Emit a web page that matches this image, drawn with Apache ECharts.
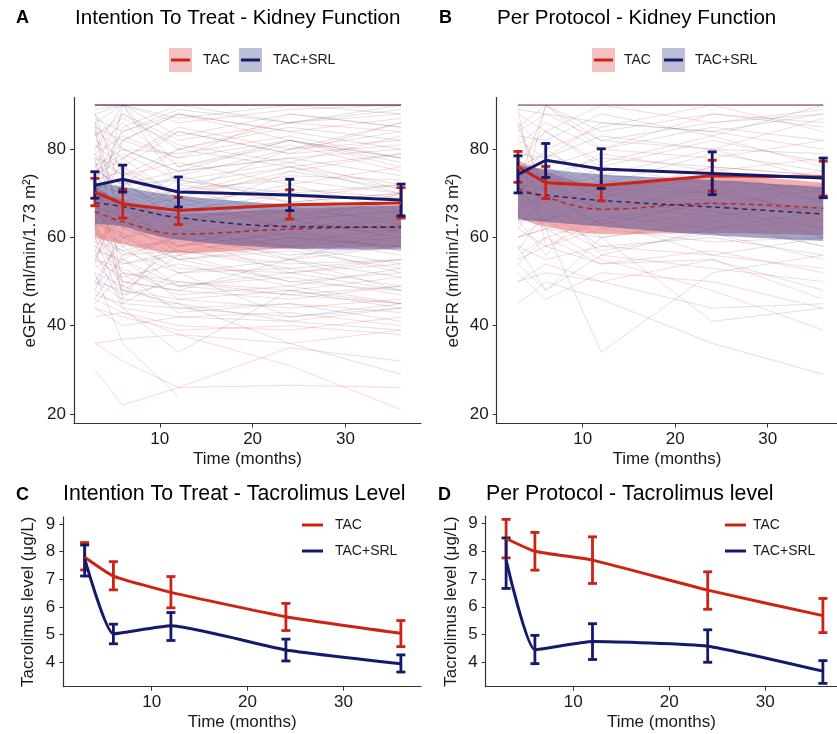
<!DOCTYPE html>
<html>
<head>
<meta charset="utf-8">
<script src="https://cdn.jsdelivr.net/npm/echarts@6/dist/echarts.min.js"></script>
<style>
html,body{margin:0;padding:0;background:#fff}
#main{width:837px;height:734px}
</style>
</head>
<body>
<div id="main"></div>
<script>
var months=[3,6,12,24,36]
var xTicks=[10,20,30]
var egfrTicks=[20,40,60,80]
var tacroTicks=[4,5,6,7,8,9]

//A: ITT eGFR
var ittTacMean=[70.3,67.6,66.1,67.4,67.8]
var ittTacLow=[67.2,64.4,62.9,64.2,64.4]
var ittTacHigh=[73.4,70.9,69.1,70.8,71.3]
var ittSrlMean=[71.8,73.2,70.3,69.6,68.5]
var ittSrlLow=[68.9,70.3,66.9,66.1,64.9]
var ittSrlHigh=[74.9,76.4,73.7,73.2,72.1]
var ittTacFit=[65.9,63.6,60.8,61.9,62.5]
var ittSrlFit=[67.9,67.0,64.5,62.5,62.3]
var ittTacBandLow=[60.0,58.5,56.5,57.5,57.8]
var ittTacBandHigh=[71.5,68.5,65.5,66.5,67.2]
var ittSrlBandLow=[63.0,62.5,59.5,57.5,57.3]
var ittSrlBandHigh=[72.5,71.5,69.5,67.5,67.3]

//B: PP eGFR
var ppTacMean=[76.0,72.4,71.8,74.0,73.7]
var ppTacLow=[72.5,68.8,68.3,70.5,69.4]
var ppTacHigh=[79.5,76.1,75.4,77.5,77.3]
var ppSrlMean=[74.3,77.5,75.5,74.5,73.5]
var ppSrlLow=[70.1,73.6,71.1,69.7,69.0]
var ppSrlHigh=[78.5,81.3,80.1,79.4,78.0]
var ppTacFit=[71.1,69.1,66.4,67.7,66.6]
var ppSrlFit=[70.3,69.6,68.4,66.9,65.3]
var ppTacBandLow=[64.5,62.5,60.8,61.0,60.5]
var ppTacBandHigh=[77.5,75.0,72.0,74.0,72.5]
var ppSrlBandLow=[64.0,63.5,62.5,60.5,59.2]
var ppSrlBandHigh=[76.5,75.5,74.3,73.0,71.4]

//C: ITT tacrolimus
var ittTacroTac=[7.8,7.12,6.53,5.65,5.05]
var ittTacroTacLow=[7.34,6.62,5.97,5.15,4.57]
var ittTacroTacHigh=[8.33,7.64,7.1,6.13,5.51]
var ittTacroSrl=[7.75,5.03,5.32,4.45,3.95]
var ittTacroSrlLow=[7.12,4.67,4.79,4.05,3.65]
var ittTacroSrlHigh=[8.24,5.38,5.8,4.84,4.27]

//D: PP tacrolimus
var ppTacroTac=[8.46,8.0,7.68,6.6,5.68]
var ppTacroTacLow=[7.76,7.32,6.84,5.91,5.07]
var ppTacroTacHigh=[9.15,8.68,8.52,7.26,6.3]
var ppTacroSrl=[7.68,4.45,4.75,4.58,3.68]
var ppTacroSrlLow=[6.66,3.95,4.1,4.0,3.24]
var ppTacroSrlHigh=[8.48,4.97,5.39,5.17,4.06]

//individual patients, eGFR at 3,6,12,24,36 months
var ittTacPatients=[
[90,90,90,90,90],[90,90,90,90,90],[90,90,90,90,90],[90,90,90,90,90],[90,90,90,90,90],[90,90,90,90,90],
[90,90,90,90,90],[90,90,90,90,90],
[88,90,86,89,90],[85,82,88,84,87],[84,80,79,83,78],[82,78,85,80,84],[80,86,76,81,75],[79,74,77,72,76],
[78,76,70,74,73],[77,72,75,78,80],[76,70,68,71,69],[75,79,73,69,72],[74,68,71,73,70],[73,75,66,67,68],
[72,66,69,64,66],[71,73,63,70,65],[70,64,67,62,64],[69,71,65,66,61],[68,62,60,63,62],[67,65,58,61,59],
[66,60,62,58,60],[65,63,57,60,56],[64,58,59,55,58],[63,61,55,57,53],[62,56,57,54,55],[61,59,53,52,54],
[60,54,56,50,52],[59,57,52,53,49],[58,52,50,48,51],[57,55,49,51,47],[56,50,48,46,49],[55,53,47,49,45],
[54,48,46,44,46],[52,49,44,45,43],[50,46,45,41,44],[48,44,42,43,40],[46,43,40,39,42],[44,42,39,40,38],
[42,43,38,36,39],[62,48,56,60,58],[70,47,60,52,55],[84,62,72,68,70],[88,70,64,75,79],[60,72,80,86,88],
[55,68,74,80,82],[36,37,38,31,21],[30,22,26,26.5,26],[36,32,26,35,32],[76,88,82,86,84],[66,78,84,79,86],
[58,64,70,76,72],[86,75,69,62,57],[64,82,78,88,85],[50,60,66,64,70],[83,87,81,77,83],[74,84,88,82,76],
[68,55,61,58,63],[79,66,73,77,71],[57,69,63,66,64],[63,52,49,47,45]
]
var ittSrlPatients=[
[90,90,90,90,90],[90,90,90,90,90],[90,90,90,90,90],[90,90,90,90,90],[90,90,90,90,90],[90,90,90,90,90],
[89,90,87,90,88],[87,84,89,86,90],[86,90,83,88,85],[83,88,80,85,82],[81,76,84,79,81],[79,83,78,82,77],
[78,74,80,76,79],[76,80,75,78,74],[75,72,73,70,72],[74,78,69,75,71],[72,70,74,68,70],[71,76,67,72,66],
[70,66,71,65,68],[68,73,64,67,63],[67,63,68,62,65],[65,70,61,64,60],[64,60,63,59,62],[62,67,58,61,57],
[61,57,60,56,58],[59,64,55,58,54],[58,54,57,53,55],[56,61,52,55,51],[55,51,54,49,53],[53,58,49,52,48],
[51,47,50,47,49],[49,55,46,48,44],[47,45,44,42,45],[45,52,43,45,41],[44,40,42,41,39],[85,49,58,64,60],
[80,90,72,76,70],[78,46,62,55,48],[52,36,24,null,null],[50,48,45,36,29],[62,90,76,82,78],[66,58,70,80,86],
[73,82,88,84,80],[57,44,34,48,45],[69,85,90,86,89],[86,62,66,60,58],[48,62,58,64,66],[60,45,52,42,44],
[77,68,56,62,70],[54,72,66,70,61],[88,80,75,82,78],[46,56,60,58,52],[63,50,48,55,62],[71,60,55,50,48]
]
var ppTacPatients=[
[90,90,90,90,90],[90,90,90,90,90],[90,90,90,90,90],[90,90,90,90,90],[90,90,90,90,90],
[88,84,90,86,89],[86,80,85,90,84],[84,88,82,80,87],[82,78,86,84,80],[80,76,80,78,82],[79,84,77,83,76],
[77,72,79,75,78],[76,79,74,80,73],[75,70,76,72,75],[74,76,71,74,70],[72,68,73,70,72],[71,74,69,76,68],
[70,66,70,67,71],[69,72,66,71,65],[68,64,67,65,67],[66,70,63,68,62],[65,62,65,62,64],[63,68,60,64,58],
[62,58,62,59,60],[60,64,57,61,55],[58,55,58,56,53],[56,60,54,57,52],[54,48,56,53,50],[52,46,52,50,44],
[50,54,50,55,46],[89,58,64,68,66],[72,90,80,88,86],[64,56,70,76,74],[60,62,55,48,39],[85,70,62,66,60]
]
var ppSrlPatients=[
[90,90,90,90,90],[90,90,90,90,90],[90,90,90,90,90],[90,90,90,90,90],
[89,88,86,84,88],[85,90,84,88,85],[83,82,88,83,90],[81,86,80,85,82],[79,78,83,80,79],[77,84,76,82,77],
[75,74,78,76,74],[73,80,72,79,75],[72,71,74,73,71],[70,76,69,74,68],[68,68,71,70,66],[66,73,66,72,64],
[64,64,68,66,62],[62,70,63,68,60],[60,62,60,63,58],[57,66,58,60,56],[55,58,54,55,48],[50,52,50,44,45],
[45,50,46,36,29],[73,62,34,52,56],[58,48,60,41,44],[86,70,56,62,66],[65,90,82,86,88],[54,60,64,56,60]
]

var RED='#cc2314', NAVY='#141a6b'
var RED_THIN='rgba(222,70,60,0.2)', NAVY_THIN='rgba(60,66,135,0.17)'
var RED_BAND='rgba(228,100,104,0.5)', NAVY_BAND='rgba(72,76,145,0.5)'
var TXT='#1a1a1a', AXIS='#333'

function pairs(ys){
    return months.map(function(m,i){return [m,ys[i]]})
}

//spaghetti lines
function patients(gi,rows,color){
    var data=[]
    rows.forEach(function(r){
        var c=[]
        r.forEach(function(v,i){ if(v!=null) c.push([months[i],v]) })
        data.push({coords:c})
    })
    return {type:'lines',coordinateSystem:'cartesian2d',xAxisIndex:gi,yAxisIndex:gi,polyline:true,silent:true,z:1,
        lineStyle:{color:color,width:1,opacity:1},data:data}
}

//smooth path through pixel points (catmull-rom)
function curve(p,start){
    var s=(start?'M':'L')+p[0][0]+','+p[0][1]
    for(var i=0;i<p.length-1;i++){
        var p0=p[Math.max(i-1,0)],p1=p[i],p2=p[i+1],p3=p[Math.min(i+2,p.length-1)]
        s+='C'+(p1[0]+(p2[0]-p0[0])/6)+','+(p1[1]+(p2[1]-p0[1])/6)+' '+
            (p2[0]-(p3[0]-p1[0])/6)+','+(p2[1]-(p3[1]-p1[1])/6)+' '+p2[0]+','+p2[1]
    }
    return s
}

//model ribbon
function band(gi,lo,hi,color){
    return {type:'custom',xAxisIndex:gi,yAxisIndex:gi,z:2,silent:true,
        data:months.map(function(m,i){return [m,lo[i],hi[i]]}),
        encode:{x:0,y:[1,2]},
        renderItem:function(params,api){
            if(params.dataIndexInside!==0) return
            var n=params.dataInsideLength,top=[],bot=[]
            for(var i=0;i<n;i++){
                var x=api.value(0,i)
                top.push(api.coord([x,api.value(2,i)]))
                bot.unshift(api.coord([x,api.value(1,i)]))
            }
            return {type:'path',shape:{pathData:curve(top,true)+curve(bot,false)+'Z'},style:{fill:color}}
        }}
}
function fitLine(gi,ys,color){
    return {type:'line',xAxisIndex:gi,yAxisIndex:gi,data:pairs(ys),symbol:'none',smooth:0.4,silent:true,z:3,
        lineStyle:{color:color,width:1.5,type:[5,4]}}
}
function meanLine(gi,ys,color,smooth){
    return {type:'line',xAxisIndex:gi,yAxisIndex:gi,data:pairs(ys),symbol:'none',smooth:smooth||false,silent:true,z:4,
        lineStyle:{color:color,width:3}}
}
function errorBars(gi,lo,hi,color){
    return {type:'custom',xAxisIndex:gi,yAxisIndex:gi,z:4,silent:true,
        data:months.map(function(m,i){return [m,lo[i],hi[i]]}),
        encode:{x:0,y:[1,2]},
        renderItem:function(params,api){
            var x=api.value(0)
            var a=api.coord([x,api.value(1)]), b=api.coord([x,api.value(2)])
            var w=4.5, st={stroke:color,lineWidth:2.8}
            return {type:'group',children:[
                {type:'line',shape:{x1:a[0],y1:a[1],x2:b[0],y2:b[1]},style:st},
                {type:'line',shape:{x1:a[0]-w,y1:a[1],x2:a[0]+w,y2:a[1]},style:st},
                {type:'line',shape:{x1:b[0]-w,y1:b[1],x2:b[0]+w,y2:b[1]},style:st}
            ]}
        }}
}

function xAx(gi,min,max){
    return {type:'value',gridIndex:gi,min:min,max:max,name:'Time (months)',nameLocation:'middle',nameGap:27,
        nameTextStyle:{fontSize:17,color:TXT,fontFamily:'Liberation Sans'},
        axisLine:{show:true,lineStyle:{color:AXIS,width:1.2}},
        axisTick:{show:true,length:4,customValues:xTicks,lineStyle:{color:AXIS}},
        axisLabel:{customValues:xTicks,fontSize:17,color:TXT,margin:7,fontFamily:'Liberation Sans'},
        splitLine:{show:false}}
}
function yAx(gi,min,max,ticks,name,gap){
    return {type:'value',gridIndex:gi,min:min,max:max,name:name,nameLocation:'middle',nameRotate:90,nameGap:gap,
        nameTextStyle:{fontSize:17,color:TXT,fontFamily:'Liberation Sans'},
        axisLine:{show:true,lineStyle:{color:AXIS,width:1.2}},
        axisTick:{show:true,length:4,customValues:ticks,lineStyle:{color:AXIS}},
        axisLabel:{customValues:ticks,fontSize:17,color:TXT,margin:8,fontFamily:'Liberation Sans'},
        splitLine:{show:false}}
}

function title(text,x,y,size,bold){
    return {text:text,left:x,top:y,padding:0,textStyle:{fontSize:size,fontWeight:bold?'bold':'normal',color:'#000',fontFamily:'Liberation Sans'}}
}

//legend keys
function boxKey(x,y,fill,line){
    return [
        {type:'rect',shape:{x:x,y:y,width:23,height:24},style:{fill:fill}},
        {type:'line',shape:{x1:x+2,y1:y+12,x2:x+21,y2:y+12},style:{stroke:line,lineWidth:3}}
    ]
}
function lineKey(x,y,color){
    return [{type:'line',shape:{x1:x,y1:y,x2:x+21,y2:y},style:{stroke:color,lineWidth:3}}]
}
function label(text,x,y){
    return {type:'text',x:x,y:y,style:{text:text,fontSize:14,fill:TXT,fontFamily:'Liberation Sans',verticalAlign:'middle'}}
}

var graphics=[]
    .concat(boxKey(169,48,'#f2c1c4',RED),[label('TAC',203,60)],boxKey(239,48,'#bcbfd6',NAVY),[label('TAC+SRL',273,60)])
    .concat(boxKey(592,48,'#f2c1c4',RED),[label('TAC',624,60)],boxKey(662,48,'#bcbfd6',NAVY),[label('TAC+SRL',695,60)])
    .concat(lineKey(302,525,RED),[label('TAC',335,525)],lineKey(302,551,NAVY),[label('TAC+SRL',335,551)])
    .concat(lineKey(725,525,RED),[label('TAC',753,525)],lineKey(725,551,NAVY),[label('TAC+SRL',753,551)])

var series=[]
series.push(patients(0,ittTacPatients,RED_THIN),patients(0,ittSrlPatients,NAVY_THIN))
series.push(band(0,ittTacBandLow,ittTacBandHigh,RED_BAND),band(0,ittSrlBandLow,ittSrlBandHigh,NAVY_BAND))
series.push(fitLine(0,ittTacFit,'#b82a22'),fitLine(0,ittSrlFit,'#2d2466'))
series.push(meanLine(0,ittTacMean,RED),errorBars(0,ittTacLow,ittTacHigh,RED),meanLine(0,ittSrlMean,NAVY),errorBars(0,ittSrlLow,ittSrlHigh,NAVY))

series.push(patients(1,ppTacPatients,RED_THIN),patients(1,ppSrlPatients,NAVY_THIN))
series.push(band(1,ppTacBandLow,ppTacBandHigh,RED_BAND),band(1,ppSrlBandLow,ppSrlBandHigh,NAVY_BAND))
series.push(fitLine(1,ppTacFit,'#b82a22'),fitLine(1,ppSrlFit,'#2d2466'))
series.push(meanLine(1,ppTacMean,RED),errorBars(1,ppTacLow,ppTacHigh,RED),meanLine(1,ppSrlMean,NAVY),errorBars(1,ppSrlLow,ppSrlHigh,NAVY))

series.push(meanLine(2,ittTacroTac,RED,0.15),errorBars(2,ittTacroTacLow,ittTacroTacHigh,RED),meanLine(2,ittTacroSrl,NAVY,0.15),errorBars(2,ittTacroSrlLow,ittTacroSrlHigh,NAVY))
series.push(meanLine(3,ppTacroTac,RED,0.15),errorBars(3,ppTacroTacLow,ppTacroTacHigh,RED),meanLine(3,ppTacroSrl,NAVY,0.15),errorBars(3,ppTacroSrlLow,ppTacroSrlHigh,NAVY))

var option={
    backgroundColor:'#fff',
    animation:false,
    title:[
        title('A',16,9,18,true),title('Intention To Treat - Kidney Function',75,8,20.6),
        title('B',439,9,18,true),title('Per Protocol - Kidney Function',497,8,20.6),
        title('C',16,486,18,true),title('Intention To Treat - Tacrolimus Level',63,484,21.3),
        title('D',438,486,18,true),title('Per Protocol - Tacrolimus level',486,484,21.3)
    ],
    grid:[
        {left:74,top:97.5,width:347,height:326},
        {left:496.7,top:97.5,width:340.3,height:326},
        {left:63.3,top:516.8,width:357.7,height:169.9},
        {left:485.7,top:516.3,width:351.3,height:170.4}
    ],
    xAxis:[xAx(0,0.75,38.15),xAx(1,0.7,37.49),xAx(2,0.77,38.1),xAx(3,0.875,37.47)],
    yAxis:[
        yAx(0,17.85,91.72,egfrTicks,'eGFR (ml/min/1.73 m²)',35),
        yAx(1,17.85,91.72,egfrTicks,'eGFR (ml/min/1.73 m²)',35),
        yAx(2,3.12,9.26,tacroTicks,'Tacrolimus level (μg/L)',26),
        yAx(3,3.12,9.26,tacroTicks,'Tacrolimus level (μg/L)',26)
    ],
    graphic:graphics,
    series:series
}

var myChart=echarts.init(document.getElementById('main'))
myChart.setOption(option)
</script>
</body>
</html>
